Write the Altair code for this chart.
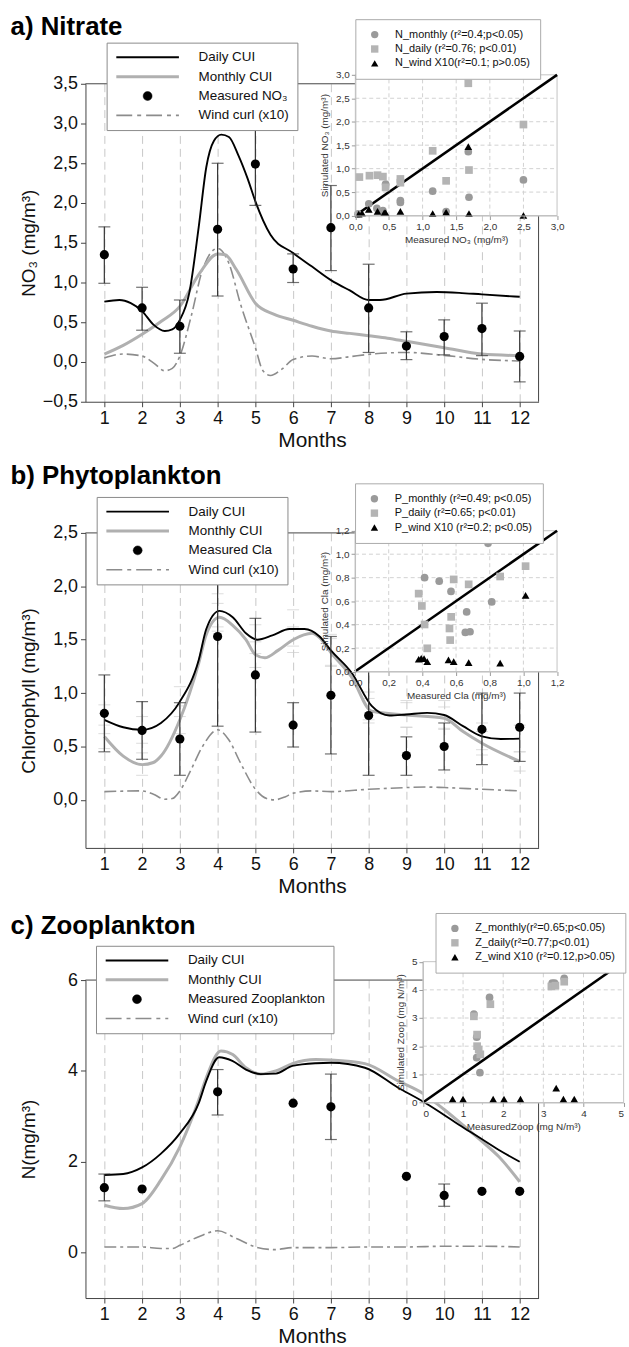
import altair as alt
import pandas as pd

FONT = "Liberation Sans"
MONTHS = list(range(1, 13))

# ---------------- a) Nitrate ----------------
A_MEAS_M = MONTHS
A_MEAS = [1.35, 0.68, 0.45, 1.67, 2.49, 1.17, 1.69, 0.68, 0.20, 0.32, 0.42, 0.07]
A_ERR_M = MONTHS
A_ERR_LO = [0.99, 0.40, 0.11, 0.83, 1.97, 1.00, 1.15, 0.12, 0.03, 0.09, 0.08, -0.25]
A_ERR_HI = [1.70, 0.94, 0.78, 2.50, 3.01, 1.36, 2.22, 1.23, 0.38, 0.53, 0.74, 0.39]
A_DAILY_M = [1, 1.4, 1.7, 2, 2.3, 2.6, 2.8, 3, 3.25, 3.5, 3.7, 3.9, 4.1, 4.3, 4.55,
             4.8, 5, 5.4, 6, 6.5, 7, 7.5, 8, 8.3, 9, 9.8, 10.4, 11, 12]
A_DAILY_V = [0.76, 0.78, 0.74, 0.64, 0.47, 0.39, 0.41, 0.53, 0.87, 1.70, 2.45, 2.78, 2.86, 2.83, 2.60,
             2.30, 2.02, 1.60, 1.37, 1.20, 1.03, 0.90, 0.78, 0.78, 0.86, 0.88, 0.87, 0.85, 0.82]
A_MONTHLY_M = [1, 1.5, 2, 2.5, 3, 3.5, 4, 4.2, 4.5, 5, 5.5, 6, 6.5, 7, 7.5, 8, 8.5, 9, 10, 11, 12]
A_MONTHLY_V = [0.10, 0.21, 0.35, 0.51, 0.70, 1.10, 1.36, 1.35, 1.16, 0.74, 0.60, 0.525, 0.45, 0.39,
               0.36, 0.33, 0.30, 0.26, 0.18, 0.10, 0.08]
A_WIND_M = [1, 1.5, 2, 2.3, 2.6, 2.8, 3, 3.3, 3.6, 4, 4.3, 4.6, 5, 5.2, 5.4, 5.7, 6, 6.5, 7, 7.5,
            8, 9, 10, 11, 12]
A_WIND_V = [0.05, 0.10, 0.075, -0.01, -0.11, -0.08, 0.075, 0.575, 1.16, 1.43, 1.24, 0.74, 0.18, -0.11,
            -0.17, -0.09, 0.03, 0.075, 0.04, 0.067, 0.096, 0.12, 0.083, 0.033, 0.013]
A_IN_MON_X = [0.04, 0.20, 0.32, 0.41, 0.45, 0.67, 0.67, 1.15, 1.35, 1.68, 1.69, 2.50]
A_IN_MON_Y = [0.035, 0.25, 0.155, 0.106, 0.67, 0.32, 0.28, 0.52, 0.085, 1.36, 0.39, 0.76]
A_IN_DAY_X = [0.06, 0.21, 0.33, 0.41, 0.45, 0.67, 0.67, 1.15, 1.35, 1.68, 1.69, 2.50]
A_IN_DAY_Y = [0.82, 0.85, 0.86, 0.83, 0.60, 0.70, 0.78, 1.38, 0.74, 2.82, 0.97, 1.94]
A_IN_WIND_X = [0.05, 0.10, 0.20, 0.33, 0.43, 0.45, 0.67, 1.15, 1.35, 1.68, 1.69, 2.50]
A_IN_WIND_Y = [0.03, 0.05, 0.13, 0.09, 0.06, 0.06, 0.09, 0.04, 0.07, 1.47, 0.04, 0.00]

# ---------------- b) Phytoplankton ----------------
B_MEAS_M = MONTHS
B_MEAS = [0.81, 0.65, 0.57, 1.53, 1.17, 0.70, 0.98, 0.79, 0.415, 0.50, 0.66, 0.68]
B_ERR_M = MONTHS
B_ERR_LO = [0.45, 0.38, 0.23, 0.69, 0.635, 0.495, 0.43, 0.23, 0.23, 0.28, 0.33, 0.36]
B_ERR_HI = [1.17, 0.92, 0.91, 2.37, 1.70, 0.91, 1.53, 1.34, 0.59, 0.72, 1.00, 1.00]
B_DAILY_M = [1, 1.5, 2, 2.5, 3, 3.5, 3.7, 4.05, 4.4, 4.75, 5.05, 5.45, 5.9, 6.3, 6.7, 7.0,
             7.55, 8.08, 8.55, 9, 9.55, 10, 10.5, 11, 11.5, 12]
B_DAILY_V = [0.75, 0.68, 0.656, 0.72, 0.92, 1.31, 1.60, 1.77, 1.71, 1.56, 1.50, 1.54, 1.60, 1.60,
             1.53, 1.40, 1.19, 0.88, 0.79, 0.80, 0.815, 0.795, 0.69, 0.595, 0.57, 0.573]
B_MONTHLY_M = [1, 1.5, 2, 2.3, 2.5, 3, 3.5, 3.7, 4.05, 4.4, 4.75, 5.0, 5.25, 5.6, 6.0, 6.5, 6.7,
               7.0, 7.55, 8.08, 9, 10, 10.5, 11, 12]
B_MONTHLY_V = [0.594, 0.41, 0.33, 0.35, 0.41, 0.75, 1.28, 1.55, 1.71, 1.635, 1.50, 1.36, 1.33, 1.40,
               1.50, 1.56, 1.52, 1.38, 1.15, 0.83, 0.795, 0.765, 0.64, 0.53, 0.36]
B_WIND_M = [1, 2, 2.3, 2.6, 2.8, 3, 3.3, 3.6, 4, 4.3, 4.6, 5, 5.3, 5.5, 5.8, 6, 6.5, 7, 8, 9,
            9.5, 10, 11, 12]
B_WIND_V = [0.077, 0.084, 0.053, 0.006, 0.012, 0.084, 0.285, 0.50, 0.656, 0.56, 0.35, 0.10, 0.012,
            0.0, 0.03, 0.062, 0.084, 0.077, 0.099, 0.115, 0.12, 0.115, 0.099, 0.084]
B_SIMD_LO = [0.62, 0.53, 0.78, 1.62, 1.37, 1.44, 1.26, 0.75, 0.68, 0.67, 0.47, 0.45]
B_SIMD_HI = [0.89, 0.78, 1.06, 1.93, 1.64, 1.78, 1.55, 1.01, 0.93, 0.93, 0.72, 0.70]
B_SIMM_LO = [0.48, 0.23, 0.62, 1.58, 1.24, 1.38, 1.25, 0.72, 0.68, 0.66, 0.42, 0.27]
B_SIMM_HI = [0.70, 0.44, 0.88, 1.84, 1.48, 1.62, 1.51, 0.95, 0.91, 0.87, 0.64, 0.45]
B_IN_MON_X = [0.413, 0.50, 0.57, 0.663, 0.655, 0.683, 0.79, 0.812]
B_IN_MON_Y = [0.80, 0.77, 0.683, 0.508, 0.333, 0.339, 1.093, 0.593]
B_IN_DAY_X = [0.378, 0.397, 0.413, 0.429, 0.561, 0.565, 0.571, 0.586, 0.675, 0.862, 1.013]
B_IN_DAY_Y = [0.664, 0.559, 0.401, 0.198, 0.367, 0.268, 0.466, 0.785, 0.743, 0.810, 0.898]
B_IN_WIND_X = [0.378, 0.393, 0.41, 0.429, 0.555, 0.586, 0.675, 0.862, 1.013]
B_IN_WIND_Y = [0.105, 0.113, 0.11, 0.085, 0.099, 0.085, 0.076, 0.071, 0.649]

# ---------------- c) Zooplankton ----------------
C_MEAS_M = [1, 2, 4, 6, 7, 9, 10, 11, 12]
C_MEAS = [1.43, 1.40, 3.54, 3.29, 3.21, 1.68, 1.26, 1.35, 1.35]
C_ERR_M = [1, 4, 7, 10]
C_ERR_LO = [1.14, 3.03, 2.49, 1.02]
C_ERR_HI = [1.73, 4.03, 3.93, 1.51]
C_DAILY_M = [1, 1.5, 2, 2.5, 3, 3.5, 3.7, 4.04, 4.39, 4.75, 5.14, 5.54, 5.98, 6.6, 7.0, 7.9,
             8.78, 9.45, 9.87, 10.4, 10.9, 11.45, 12]
C_DAILY_V = [1.71, 1.73, 1.875, 2.18, 2.625, 3.29, 3.78, 4.30, 4.22, 4.03, 3.93, 3.94, 4.11, 4.17,
             4.18, 4.07, 3.63, 3.32, 3.10, 2.81, 2.55, 2.26, 2.0]
C_MONTHLY_M = [1, 1.5, 2, 2.5, 3, 3.5, 3.7, 4.09, 4.4, 4.75, 5.14, 5.54, 5.98, 6.6, 7.0, 7.9,
               8.78, 9.45, 10, 10.55, 11, 11.45, 12]
C_MONTHLY_V = [1.044, 0.97, 1.08, 1.6, 2.33, 3.36, 3.85, 4.44, 4.36, 4.07, 3.93, 4.0, 4.16, 4.25,
               4.24, 4.16, 3.78, 3.5, 3.15, 2.77, 2.45, 2.11, 1.56]
C_WIND_M = [1, 2, 2.5, 2.8, 3, 3.5, 4, 4.5, 5, 5.5, 6, 7, 8, 9, 10, 11, 12]
C_WIND_V = [0.125, 0.125, 0.09, 0.09, 0.16, 0.35, 0.48, 0.31, 0.125, 0.066, 0.11, 0.11, 0.125,
            0.125, 0.14, 0.14, 0.125]
C_IN_MON_X = [1.27, 1.34, 1.34, 1.42, 1.66, 3.22, 3.28, 3.52]
C_IN_MON_Y = [3.14, 2.32, 1.59, 1.06, 3.73, 4.24, 4.24, 4.41]
C_IN_DAY_X = [1.27, 1.35, 1.35, 1.39, 1.43, 1.68, 3.20, 3.30, 3.52]
C_IN_DAY_Y = [3.06, 2.41, 2.00, 1.88, 1.71, 3.49, 4.12, 4.15, 4.29]
C_IN_WIND_X = [0.74, 1.00, 1.75, 2.02, 2.43, 3.32, 3.50, 3.77]
C_IN_WIND_Y = [0.12, 0.12, 0.12, 0.12, 0.12, 0.51, 0.12, 0.12]

COMMA1 = "replace(format(datum.value, '.1f'), '.', ',')"

# legend symbols (unit paths, drawn with symbolSize 100)
SYM_LINE = "M-1,0H11.6"
SYM_DOT = "M6.2,0A0.9,0.9,0,1,1,4.4,0A0.9,0.9,0,1,1,6.2,0Z"
SYM_DASHDOT = "M-1,0H2.2M3.2,0H4M5,0H8.2M9.2,0H10M11,0H11.6"


def ldf(m, v):
    return pd.DataFrame({"month": m, "value": v})


def make_panel(P):
    W, H = 456, P["H"]
    ymin, ymax = P["ydom"]
    xs = alt.Scale(domain=[0.5, 12.5], nice=False, zero=False)
    ys = alt.Scale(domain=[ymin, ymax], nice=False, zero=False)
    xax = alt.Axis(values=MONTHS, title="Months", grid=True, gridDash=[8, 5], gridColor="#c8c8c8",
                   gridWidth=1, domainColor="#444", tickColor="#444", tickSize=5, labelFontSize=18,
                   titleFontSize=21, titleFontWeight="normal", labelPadding=3, titlePadding=2,
                   labelColor="#111", titleColor="#111", labelFont=FONT, titleFont=FONT)
    yax = alt.Axis(values=P["yticks"], title=P["ytitle"], grid=False, labelExpr=P["ylabel"],
                   domainColor="#444", tickColor="#444", tickSize=5, labelFontSize=18,
                   titleFontSize=19, titleFontWeight="normal", labelPadding=3, titleX=-47,
                   labelColor="#111", titleColor="#111", labelFont=FONT, titleFont=FONT)

    def X(f):
        return alt.X(f, type="quantitative", scale=xs, axis=xax)

    def Y(f):
        return alt.Y(f, type="quantitative", scale=ys, axis=yax)

    layers = []
    # frame (top and right edges of the plot box)
    layers.append(alt.Chart(pd.DataFrame({"x0": [0.5], "x1": [12.5], "yv": [ymax]}))
                  .mark_rule(color="#444", strokeWidth=1)
                  .encode(x=X("x0"), x2="x1", y=Y("yv")))
    layers.append(alt.Chart(pd.DataFrame({"xv": [12.5], "y0": [ymin], "y1": [ymax]}))
                  .mark_rule(color="#444", strokeWidth=1)
                  .encode(x=X("xv"), y=Y("y0"), y2="y1"))
    if "simd_lo" in P:
        for arr in (P["simd_lo"], P["simd_hi"], P["simm_lo"], P["simm_hi"]):
            layers.append(alt.Chart(ldf(MONTHS, arr))
                          .mark_tick(orient="horizontal", size=12, thickness=1, color="#cdcdcd")
                          .encode(x=X("month"), y=Y("value")))
    layers.append(alt.Chart(ldf(P["wind_m"], P["wind_v"]))
                  .mark_line(interpolate="monotone", color="#8c8c8c", strokeWidth=1.6,
                             strokeDash=[12, 4, 3, 4])
                  .encode(x=X("month"), y=Y("value")))
    layers.append(alt.Chart(ldf(P["mon_m"], P["mon_v"]))
                  .mark_line(interpolate="monotone", color="#b0b0b0", strokeWidth=3)
                  .encode(x=X("month"), y=Y("value")))
    layers.append(alt.Chart(ldf(P["day_m"], P["day_v"]))
                  .mark_line(interpolate="monotone", color="#000000", strokeWidth=1.9)
                  .encode(x=X("month"), y=Y("value")))
    edf = pd.DataFrame({"month": P["err_m"], "lo": P["err_lo"], "hi": P["err_hi"]})
    layers.append(alt.Chart(edf).mark_rule(color="#333", strokeWidth=1.2)
                  .encode(x=X("month"), y=Y("lo"), y2="hi"))
    for col in ("lo", "hi"):
        layers.append(alt.Chart(edf).mark_tick(orient="horizontal", size=12, thickness=1.2, color="#333")
                      .encode(x=X("month"), y=Y(col)))
    layers.append(alt.Chart(ldf(P["meas_m"], P["meas"]))
                  .mark_circle(size=85, color="#000", opacity=1)
                  .encode(x=X("month"), y=Y("value")))
    # main legend
    names = P["series"]
    mleg = alt.Legend(title=None, orient="none", legendX=P["mleg"][0], legendY=P["mleg"][1],
                      labelFontSize=13.5, labelFont=FONT, labelColor="#111", fillColor="white",
                      strokeColor="#8a8a8a", padding=8, rowPadding=4.5, labelOffset=71,
                      symbolSize=100, direction="vertical", zindex=3)
    layers.append(alt.Chart(pd.DataFrame({"series": names})).transform_filter("false")
                  .mark_point(opacity=1)
                  .encode(
                      shape=alt.Shape("series:N", scale=alt.Scale(domain=names, range=[SYM_LINE, SYM_LINE, SYM_DOT, SYM_DASHDOT]), legend=mleg),
                      stroke=alt.Stroke("series:N", scale=alt.Scale(domain=names, range=["#000", "#b0b0b0", "#000", "#8c8c8c"]), legend=mleg),
                      fill=alt.Fill("series:N", scale=alt.Scale(domain=names, range=["transparent", "transparent", "#000", "transparent"]), legend=mleg),
                      strokeWidth=alt.StrokeWidth("series:N", scale=alt.Scale(type="ordinal", domain=names, range=[1.9, 3, 0.5, 1.6]), legend=mleg),
                  ))
    main = alt.layer(*layers)

    # ---- inset ----
    imax = P["imax"]
    ixs = alt.Scale(domain=[0, imax], range=P["ixr"], nice=False, zero=False)
    iys = alt.Scale(domain=[0, imax], range=P["iyr"], nice=False, zero=False)
    ixax = alt.Axis(orient="bottom", offset=P["ixoff"], values=P["iticks"], labelExpr=P["ilabel"],
                    title=P["ixtitle"], grid=False, domainColor="#bdbdbd", tickColor="#9a9a9a",
                    tickSize=4, labelFontSize=10, labelColor="#333", titleFontSize=10,
                    titleFontWeight="normal", titleColor="#333", labelPadding=2, titlePadding=3,
                    zindex=2, labelFlush=P["iflush"], labelFont=FONT, titleFont=FONT)
    iyax = alt.Axis(orient="left", offset=P["iyoff"], values=P["iticks"], labelExpr=P["ilabel"],
                    title=P["iytitle"], grid=False, domainColor="#bdbdbd", tickColor="#9a9a9a",
                    tickSize=4, labelFontSize=10, labelColor="#333", titleFontSize=10,
                    titleFontWeight="normal", titleColor="#333", labelPadding=2, titlePadding=6,
                    zindex=2, labelFont=FONT, titleFont=FONT)

    def IX(f):
        return alt.X(f, type="quantitative", scale=ixs, axis=ixax)

    def IY(f):
        return alt.Y(f, type="quantitative", scale=iys, axis=iyax)

    ilayers = []
    ilayers.append(alt.Chart(pd.DataFrame({"x0": [0], "x1": [imax], "y0": [0], "y1": [imax]}))
                   .mark_rect(fill="white", stroke="#c4c4c4", strokeWidth=1)
                   .encode(x=IX("x0"), x2="x1", y=IY("y0"), y2="y1"))
    inner = P["iticks"][1:-1]
    ilayers.append(alt.Chart(pd.DataFrame({"g": inner, "y0": [0] * len(inner), "y1": [imax] * len(inner)}))
                   .mark_rule(color="#d2d2d2", strokeDash=[4, 3], strokeWidth=1)
                   .encode(x=IX("g"), y=IY("y0"), y2="y1"))
    ilayers.append(alt.Chart(pd.DataFrame({"g": inner, "x0": [0] * len(inner), "x1": [imax] * len(inner)}))
                   .mark_rule(color="#d2d2d2", strokeDash=[4, 3], strokeWidth=1)
                   .encode(y=IY("g"), x=IX("x0"), x2="x1"))
    ilayers.append(alt.Chart(pd.DataFrame({"x": [0, imax], "y": [0, imax]}))
                   .mark_line(color="#000", strokeWidth=2.6)
                   .encode(x=IX("x"), y=IY("y")))
    labs = P["ilabels"]
    sdf = pd.concat([
        pd.DataFrame({"x": P["in_mon_x"], "y": P["in_mon_y"], "sim": labs[0]}),
        pd.DataFrame({"x": P["in_day_x"], "y": P["in_day_y"], "sim": labs[1]}),
        pd.DataFrame({"x": P["in_wind_x"], "y": P["in_wind_y"], "sim": labs[2]}),
    ], ignore_index=True)
    ileg = alt.Legend(title=None, orient="none", legendX=P["ileg"][0], legendY=P["ileg"][1],
                      labelFontSize=11, labelFont=FONT, labelColor="#111", fillColor="white",
                      strokeColor="#aaaaaa", padding=10, rowPadding=2.5, symbolSize=55,
                      labelOffset=15, symbolOffset=4, direction="vertical", zindex=3)
    ilayers.append(alt.Chart(sdf).mark_point(filled=True, opacity=1, size=60)
                   .encode(
                       x=IX("x"), y=IY("y"),
                       shape=alt.Shape("sim:N", scale=alt.Scale(domain=labs, range=["circle", "square", "triangle-up"]), legend=ileg),
                       color=alt.Color("sim:N", scale=alt.Scale(domain=labs, range=["#9a9a9a", "#b4b4b4", "#000000"]), legend=ileg),
                   ))
    inset = alt.layer(*ilayers)

    return (alt.layer(main, inset)
            .resolve_scale(x="independent", y="independent", shape="independent",
                           color="independent", fill="independent", stroke="independent",
                           strokeWidth="independent")
            .properties(width=W, height=H,
                        title=alt.TitleParams(P["title"], anchor="start", frame="group",
                                              dx=-75.4, dy=P["tdy"], fontSize=26, font=FONT,
                                              fontWeight="bold", color="#000")))


PA = dict(H=320, ydom=(-0.5, 3.5), yticks=[-0.5, 0, 0.5, 1, 1.5, 2, 2.5, 3, 3.5], ylabel=COMMA1,
          ytitle="NO₃ (mg/m³)", title="a) Nitrate", tdy=25,
          meas_m=A_MEAS_M, meas=A_MEAS, err_m=A_ERR_M, err_lo=A_ERR_LO, err_hi=A_ERR_HI,
          day_m=A_DAILY_M, day_v=A_DAILY_V, mon_m=A_MONTHLY_M, mon_v=A_MONTHLY_V,
          wind_m=A_WIND_M, wind_v=A_WIND_V,
          series=["Daily CUI", "Monthly CUI", "Measured NO₃", "Wind curl (x10)"], mleg=(21.3, -41.4),
          imax=3, ixr=[271.6, 474.6], iyr=[132.6, -9], ixoff=-187.4, iyoff=-271.6,
          iticks=[0, 0.5, 1, 1.5, 2, 2.5, 3], ilabel=COMMA1, iflush=False,
          ixtitle="Measured NO₃ (mg/m³)", iytitle="Simulated NO₃ (mg/m³)",
          ilabels=["N_monthly (r²=0.4;p<0.05)", "N_daily (r²=0.76; p<0.01)", "N_wind X10(r²=0.1; p>0.05)"],
          ileg=(271.6, -65),
          in_mon_x=A_IN_MON_X, in_mon_y=A_IN_MON_Y, in_day_x=A_IN_DAY_X, in_day_y=A_IN_DAY_Y,
          in_wind_x=A_IN_WIND_X, in_wind_y=A_IN_WIND_Y)

PB = dict(H=317, ydom=(-0.45, 2.5), yticks=[0, 0.5, 1, 1.5, 2, 2.5], ylabel=COMMA1,
          ytitle="Chlorophyll (mg/m³)", title="b) Phytoplankton", tdy=10,
          meas_m=B_MEAS_M, meas=B_MEAS, err_m=B_ERR_M, err_lo=B_ERR_LO, err_hi=B_ERR_HI,
          day_m=B_DAILY_M, day_v=B_DAILY_V, mon_m=B_MONTHLY_M, mon_v=B_MONTHLY_V,
          wind_m=B_WIND_M, wind_v=B_WIND_V,
          simd_lo=B_SIMD_LO, simd_hi=B_SIMD_HI, simm_lo=B_SIMM_LO, simm_hi=B_SIMM_HI,
          series=["Daily CUI", "Monthly CUI", "Measured Cla", "Wind curl (x10)"], mleg=(11.3, -36.2),
          imax=1.2, ixr=[271.3, 474.6], iyr=[139.5, -2.2], ixoff=-177.5, iyoff=-271.3,
          iticks=[0, 0.2, 0.4, 0.6, 0.8, 1.0, 1.2], ilabel=COMMA1, iflush=False,
          ixtitle="Measured Cla (mg/m³)", iytitle="Simulated Cla (mg/m³)",
          ilabels=["P_monthly (r²=0.49; p<0.05)", "P_daily (r²=0.65; p<0.01)", "P_wind X10 (r²=0.2; p<0.05)"],
          ileg=(271.3, -49.9),
          in_mon_x=B_IN_MON_X, in_mon_y=B_IN_MON_Y, in_day_x=B_IN_DAY_X, in_day_y=B_IN_DAY_Y,
          in_wind_x=B_IN_WIND_X, in_wind_y=B_IN_WIND_Y)

PC = dict(H=320, ydom=(-1, 6), yticks=[0, 2, 4, 6], ylabel="datum.label",
          ytitle="N(mg/m³)", title="c) Zooplankton", tdy=31,
          meas_m=C_MEAS_M, meas=C_MEAS, err_m=C_ERR_M, err_lo=C_ERR_LO, err_hi=C_ERR_HI,
          day_m=C_DAILY_M, day_v=C_DAILY_V, mon_m=C_MONTHLY_M, mon_v=C_MONTHLY_V,
          wind_m=C_WIND_M, wind_v=C_WIND_V,
          series=["Daily CUI", "Monthly CUI", "Measured Zooplankton", "Wind curl (x10)"], mleg=(10.6, -34.5),
          imax=5, ixr=[339.6, 541.6], iyr=[123.2, -18.5], ixoff=-196.8, iyoff=-339.6,
          iticks=[0, 1, 2, 3, 4, 5], ilabel="datum.label", iflush=True,
          ixtitle="MeasuredZoop (mg N/m³)", iytitle="Simulated Zoop (mg N/m³)",
          ilabels=["Z_monthly(r²=0.65;p<0.05)", "Z_daily(r²=0.77;p<0.01)", "Z_wind X10 (r²=0.12,p>0.05)"],
          ileg=(352.3, -67.5),
          in_mon_x=C_IN_MON_X, in_mon_y=C_IN_MON_Y, in_day_x=C_IN_DAY_X, in_day_y=C_IN_DAY_Y,
          in_wind_x=C_IN_WIND_X, in_wind_y=C_IN_WIND_Y)

top_two = alt.vconcat(make_panel(PA), make_panel(PB), spacing=12)
chart = (alt.vconcat(top_two, make_panel(PC), spacing=16)
         .properties(padding={"left": 10, "top": 9, "right": 0, "bottom": 2})
         .configure(font=FONT)
         .configure_view(strokeWidth=0))

chart.save("out.html", embed_options={"renderer": "svg", "actions": False})
